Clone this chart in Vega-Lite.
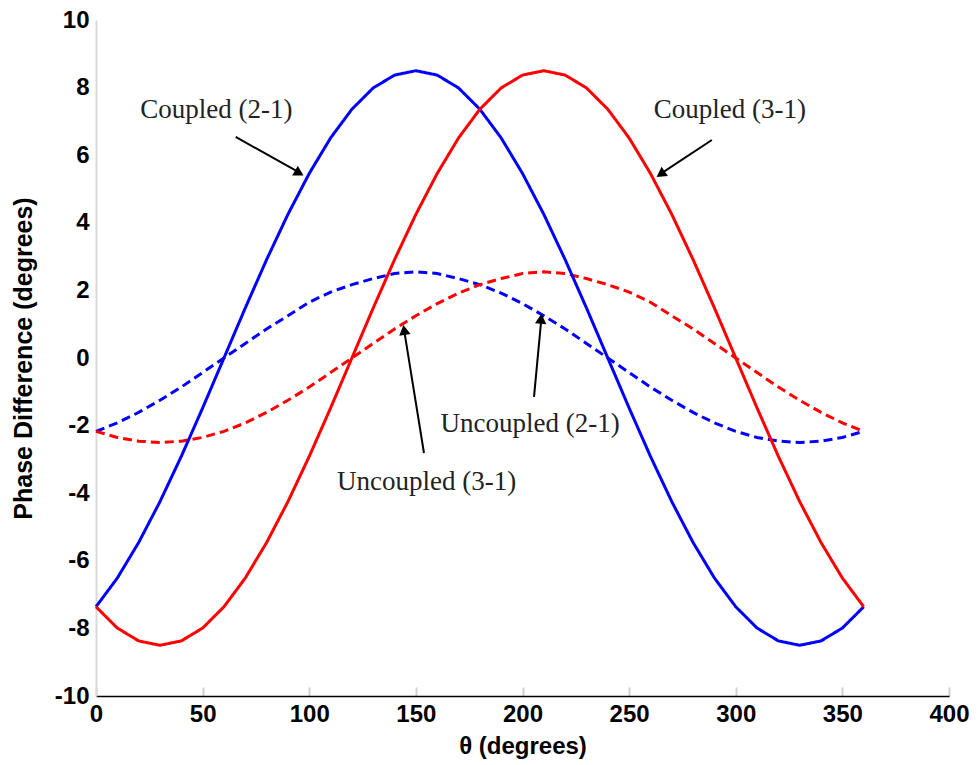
{
  "$schema": "https://vega.github.io/schema/vega-lite/v6.json",
  "width": 853,
  "height": 676,
  "autosize": {"type": "none"},
  "padding": {"left": 96, "top": 20, "right": 29, "bottom": 69},
  "background": "white",
  "config": {"view": {"stroke": null}},
  "datasets": {
    "curves": [
      {"theta": 0, "c21": -7.36, "c31": -7.36, "u21": -2.17, "u31": -2.17},
      {"theta": 10, "c21": -6.51, "c31": -7.99, "u21": -1.92, "u31": -2.35},
      {"theta": 20, "c21": -5.46, "c31": -8.37, "u21": -1.61, "u31": -2.46},
      {"theta": 30, "c21": -4.25, "c31": -8.5, "u21": -1.25, "u31": -2.5},
      {"theta": 40, "c21": -2.91, "c31": -8.37, "u21": -0.86, "u31": -2.46},
      {"theta": 50, "c21": -1.48, "c31": -7.99, "u21": -0.43, "u31": -2.35},
      {"theta": 60, "c21": 0, "c31": -7.36, "u21": 0, "u31": -2.17},
      {"theta": 70, "c21": 1.48, "c31": -6.51, "u21": 0.43, "u31": -1.92},
      {"theta": 80, "c21": 2.91, "c31": -5.46, "u21": 0.86, "u31": -1.61},
      {"theta": 90, "c21": 4.25, "c31": -4.25, "u21": 1.25, "u31": -1.25},
      {"theta": 100, "c21": 5.46, "c31": -2.91, "u21": 1.65, "u31": -0.86},
      {"theta": 110, "c21": 6.51, "c31": -1.48, "u21": 1.95, "u31": -0.43},
      {"theta": 120, "c21": 7.36, "c31": 0, "u21": 2.17, "u31": 0},
      {"theta": 130, "c21": 7.99, "c31": 1.48, "u21": 2.35, "u31": 0.43},
      {"theta": 140, "c21": 8.37, "c31": 2.91, "u21": 2.5, "u31": 0.86},
      {"theta": 150, "c21": 8.5, "c31": 4.25, "u21": 2.55, "u31": 1.25},
      {"theta": 160, "c21": 8.37, "c31": 5.46, "u21": 2.5, "u31": 1.61},
      {"theta": 170, "c21": 7.99, "c31": 6.51, "u21": 2.35, "u31": 1.92},
      {"theta": 180, "c21": 7.36, "c31": 7.36, "u21": 2.17, "u31": 2.17},
      {"theta": 190, "c21": 6.51, "c31": 7.99, "u21": 1.92, "u31": 2.35},
      {"theta": 200, "c21": 5.46, "c31": 8.37, "u21": 1.61, "u31": 2.5},
      {"theta": 210, "c21": 4.25, "c31": 8.5, "u21": 1.25, "u31": 2.55},
      {"theta": 220, "c21": 2.91, "c31": 8.37, "u21": 0.86, "u31": 2.5},
      {"theta": 230, "c21": 1.48, "c31": 7.99, "u21": 0.43, "u31": 2.35},
      {"theta": 240, "c21": 0, "c31": 7.36, "u21": 0, "u31": 2.17},
      {"theta": 250, "c21": -1.48, "c31": 6.51, "u21": -0.43, "u31": 1.95},
      {"theta": 260, "c21": -2.91, "c31": 5.46, "u21": -0.86, "u31": 1.65},
      {"theta": 270, "c21": -4.25, "c31": 4.25, "u21": -1.25, "u31": 1.25},
      {"theta": 280, "c21": -5.46, "c31": 2.91, "u21": -1.61, "u31": 0.86},
      {"theta": 290, "c21": -6.51, "c31": 1.48, "u21": -1.92, "u31": 0.43},
      {"theta": 300, "c21": -7.36, "c31": 0, "u21": -2.17, "u31": 0},
      {"theta": 310, "c21": -7.99, "c31": -1.48, "u21": -2.35, "u31": -0.43},
      {"theta": 320, "c21": -8.37, "c31": -2.91, "u21": -2.46, "u31": -0.86},
      {"theta": 330, "c21": -8.5, "c31": -4.25, "u21": -2.5, "u31": -1.25},
      {"theta": 340, "c21": -8.37, "c31": -5.46, "u21": -2.46, "u31": -1.61},
      {"theta": 350, "c21": -7.99, "c31": -6.51, "u21": -2.35, "u31": -1.92},
      {"theta": 360, "c21": -7.36, "c31": -7.36, "u21": -2.17, "u31": -2.17}
    ],
    "labels": [
      {"theta": 56.4, "value": 7.34, "text": "Coupled (2-1)"},
      {"theta": 297.2, "value": 7.34, "text": "Coupled (3-1)"},
      {"theta": 203.6, "value": -1.95, "text": "Uncoupled (2-1)"},
      {"theta": 155, "value": -3.67, "text": "Uncoupled (3-1)"}
    ],
    "arrows": [
      {"id": "a", "theta": 65.5, "value": 6.54, "theta2": 96.5, "value2": 5.45},
      {"id": "b", "theta": 288.8, "value": 6.45, "theta2": 264, "value2": 5.42},
      {"id": "c", "theta": 153.8, "value": -2.81, "theta2": 144.3, "value2": 0.9},
      {"id": "d", "theta": 205.4, "value": -1.15, "theta2": 208.9, "value2": 1.2}
    ],
    "heads": [
      {"id": "a", "theta": 95.3, "value": 5.47},
      {"id": "b", "theta": 264.8, "value": 5.44},
      {"id": "c", "theta": 144.5, "value": 0.83},
      {"id": "d", "theta": 208.7, "value": 1.16}
    ]
  },
  "layer": [
    {
      "data": {"name": "curves"},
      "transform": [{"fold": ["u21", "u31", "c21", "c31"], "as": ["series", "value"]}],
      "mark": {"type": "line", "strokeWidth": 3},
      "encoding": {
        "x": {
          "field": "theta", "type": "quantitative",
          "scale": {"domain": [0, 400], "nice": false, "zero": false},
          "axis": {
            "values": [0, 50, 100, 150, 200, 250, 300, 350, 400],
            "labelExpr": "'' + datum.value",
            "title": "θ (degrees)",
            "titleFont": "Liberation Sans", "titleFontSize": 24, "titleFontWeight": "bold", "titleColor": "#000000",
            "titlePadding": 8,
            "labelFont": "Liberation Sans", "labelFontSize": 24, "labelFontWeight": "bold", "labelColor": "#000000",
            "labelPadding": 15, "labelFlush": false,
            "domainColor": "#000000", "domainWidth": 1.5,
            "tickColor": "#d0d0d0", "tickSize": -9, "tickWidth": 2,
            "grid": false
          }
        },
        "y": {
          "field": "value", "type": "quantitative",
          "scale": {"domain": [-10, 10], "nice": false},
          "axis": {
            "values": [-10, -8, -6, -4, -2, 0, 2, 4, 6, 8, 10],
            "labelExpr": "'' + datum.value",
            "title": "Phase Difference (degrees)",
            "titleFont": "Liberation Sans", "titleFontSize": 25, "titleFontWeight": "bold", "titleColor": "#000000",
            "titlePadding": 18,
            "labelFont": "Liberation Sans", "labelFontSize": 24, "labelFontWeight": "bold", "labelColor": "#000000",
            "labelPadding": 7, "labelFlush": false,
            "domainColor": "#d9d9d9", "domainWidth": 2,
            "ticks": false,
            "grid": false
          }
        },
        "color": {
          "field": "series", "type": "nominal",
          "scale": {"domain": ["c21", "c31", "u21", "u31"], "range": ["#0000ff", "#ff0000", "#0000ff", "#ff0000"]},
          "legend": null
        },
        "strokeDash": {
          "field": "series", "type": "nominal",
          "scale": {"domain": ["c21", "c31", "u21", "u31"], "range": [[1, 0], [1, 0], [9, 5], [9, 5]]},
          "legend": null
        }
      }
    },
    {
      "mark": {"type": "rule", "color": "#d9d9d9", "strokeWidth": 2},
      "encoding": {"x": {"datum": 400}}
    },
    {
      "data": {"name": "arrows"},
      "mark": {"type": "rule", "color": "#000000", "strokeWidth": 2},
      "encoding": {
        "x": {"field": "theta", "type": "quantitative"},
        "y": {"field": "value", "type": "quantitative"},
        "x2": {"field": "theta2"},
        "y2": {"field": "value2"}
      }
    },
    {
      "data": {"name": "heads"},
      "transform": [{"filter": "datum.id == 'a'"}],
      "mark": {"type": "point", "shape": "triangle-up", "filled": true, "color": "#000000", "size": 130, "angle": 120, "opacity": 1},
      "encoding": {"x": {"field": "theta", "type": "quantitative"}, "y": {"field": "value", "type": "quantitative"}}
    },
    {
      "data": {"name": "heads"},
      "transform": [{"filter": "datum.id == 'b'"}],
      "mark": {"type": "point", "shape": "triangle-up", "filled": true, "color": "#000000", "size": 130, "angle": 236, "opacity": 1},
      "encoding": {"x": {"field": "theta", "type": "quantitative"}, "y": {"field": "value", "type": "quantitative"}}
    },
    {
      "data": {"name": "heads"},
      "transform": [{"filter": "datum.id == 'c'"}],
      "mark": {"type": "point", "shape": "triangle-up", "filled": true, "color": "#000000", "size": 130, "angle": 351, "opacity": 1},
      "encoding": {"x": {"field": "theta", "type": "quantitative"}, "y": {"field": "value", "type": "quantitative"}}
    },
    {
      "data": {"name": "heads"},
      "transform": [{"filter": "datum.id == 'd'"}],
      "mark": {"type": "point", "shape": "triangle-up", "filled": true, "color": "#000000", "size": 130, "angle": 5, "opacity": 1},
      "encoding": {"x": {"field": "theta", "type": "quantitative"}, "y": {"field": "value", "type": "quantitative"}}
    },
    {
      "data": {"name": "labels"},
      "mark": {"type": "text", "font": "Liberation Serif", "fontSize": 27, "color": "#222222", "align": "center", "baseline": "middle"},
      "encoding": {
        "x": {"field": "theta", "type": "quantitative"},
        "y": {"field": "value", "type": "quantitative"},
        "text": {"field": "text"}
      }
    }
  ]
}
